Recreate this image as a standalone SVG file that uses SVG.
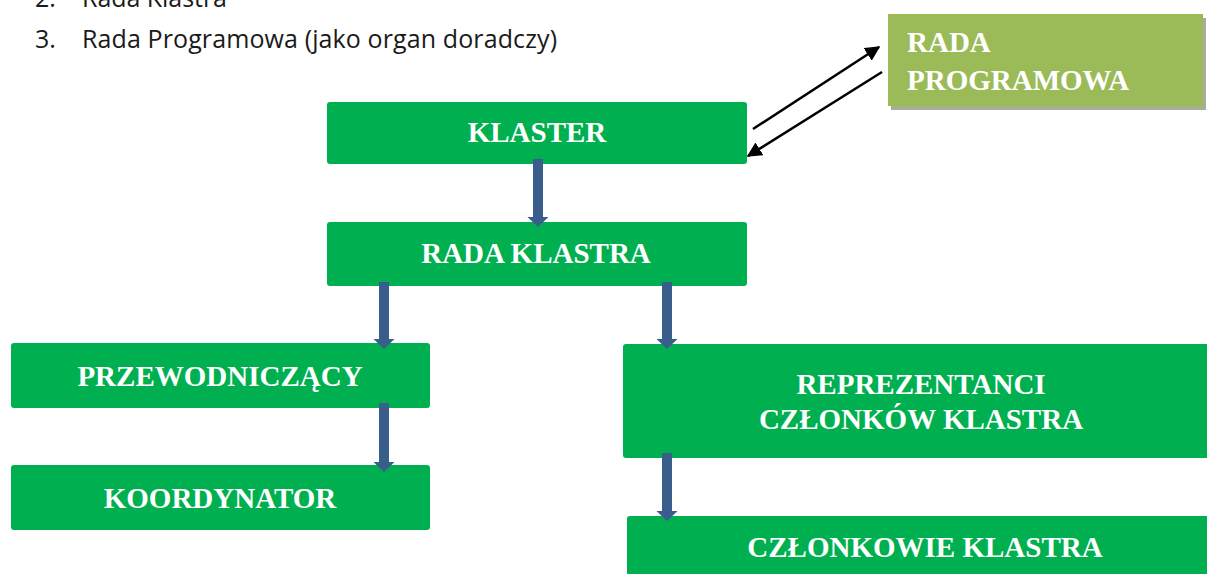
<svg xmlns="http://www.w3.org/2000/svg" width="1207" height="574" viewBox="0 0 1207 574">
<defs>
<style>
.box{fill:#00b050;}
.lbl{font-family:"Liberation Serif","Times New Roman",serif;font-weight:bold;font-size:29px;fill:#ffffff;}
.mid{text-anchor:middle;}
.body{font-family:"Open Sans","Noto Sans",sans-serif;font-size:25px;fill:#1a1a1a;}
.blk{fill:#3a5e8c;}
.thin{stroke:#000;stroke-width:2.5;fill:none;marker-end:url(#ah);}
</style>
<marker id="ah" viewBox="0 0 10 10" refX="9" refY="5" markerWidth="6" markerHeight="6" orient="auto" markerUnits="strokeWidth">
<path d="M0,0 L10,5 L0,10 z" fill="#000"/>
</marker>
</defs>
<rect width="1207" height="574" fill="#ffffff"/>
<g id="intro">
<text class="body" x="35" y="7">2.</text>
<text class="body" x="82" y="7" textLength="145" lengthAdjust="spacing">Rada Klastra</text>
<text class="body" x="35" y="48">3.</text>
<text class="body" x="82" y="48" textLength="475" lengthAdjust="spacing">Rada Programowa (jako organ doradczy)</text>
</g>
<g id="rada-programowa">
<rect x="891" y="18" width="315" height="92" fill="#a8ae96"/>
<rect x="888" y="14" width="315" height="92" fill="#9bbb59"/>
<text class="lbl" x="907" y="52">RADA</text>
<text class="lbl" x="907" y="90">PROGRAMOWA</text>
</g>
<g id="klaster">
<rect class="box" x="327" y="102" width="420" height="62" rx="3"/>
<text class="lbl mid" x="537" y="142">KLASTER</text>
</g>
<g id="rada-klastra">
<rect class="box" x="327" y="222" width="420" height="64" rx="3"/>
<text class="lbl mid" x="536" y="263">RADA KLASTRA</text>
</g>
<g id="przewodniczacy">
<rect class="box" x="11" y="343" width="419" height="65" rx="3"/>
<text class="lbl mid" x="220" y="386">PRZEWODNICZĄCY</text>
</g>
<g id="koordynator">
<rect class="box" x="11" y="465" width="419" height="65" rx="3"/>
<text class="lbl mid" x="220" y="508">KOORDYNATOR</text>
</g>
<g id="reprezentanci">
<rect class="box" x="623" y="344" width="600" height="114" rx="3"/>
<text class="lbl mid" x="921" y="394">REPREZENTANCI</text>
<text class="lbl mid" x="921" y="429">CZŁONKÓW KLASTRA</text>
</g>
<g id="czlonkowie">
<rect class="box" x="627" y="516" width="600" height="70" rx="3"/>
<text class="lbl mid" x="925" y="557">CZŁONKOWIE KLASTRA</text>
</g>
<g id="connectors">
<polygon class="blk" points="533,159 543,159 543,217 548.5,217 538,227 527.5,217 533,217"/>
<polygon class="blk" points="379,282 389,282 389,339 394.5,339 384,349 373.5,339 379,339"/>
<polygon class="blk" points="379,403 389,403 389,462 394.5,462 384,472 373.5,462 379,462"/>
<polygon class="blk" points="662,282 672,282 672,339 677.5,339 667,349 656.5,339 662,339"/>
<polygon class="blk" points="662,453 672,453 672,511 677.5,511 667,521 656.5,511 662,511"/>
<line class="thin" x1="753" y1="129" x2="879" y2="47"/>
<line class="thin" x1="882" y1="72" x2="748" y2="156"/>
</g>
</svg>
